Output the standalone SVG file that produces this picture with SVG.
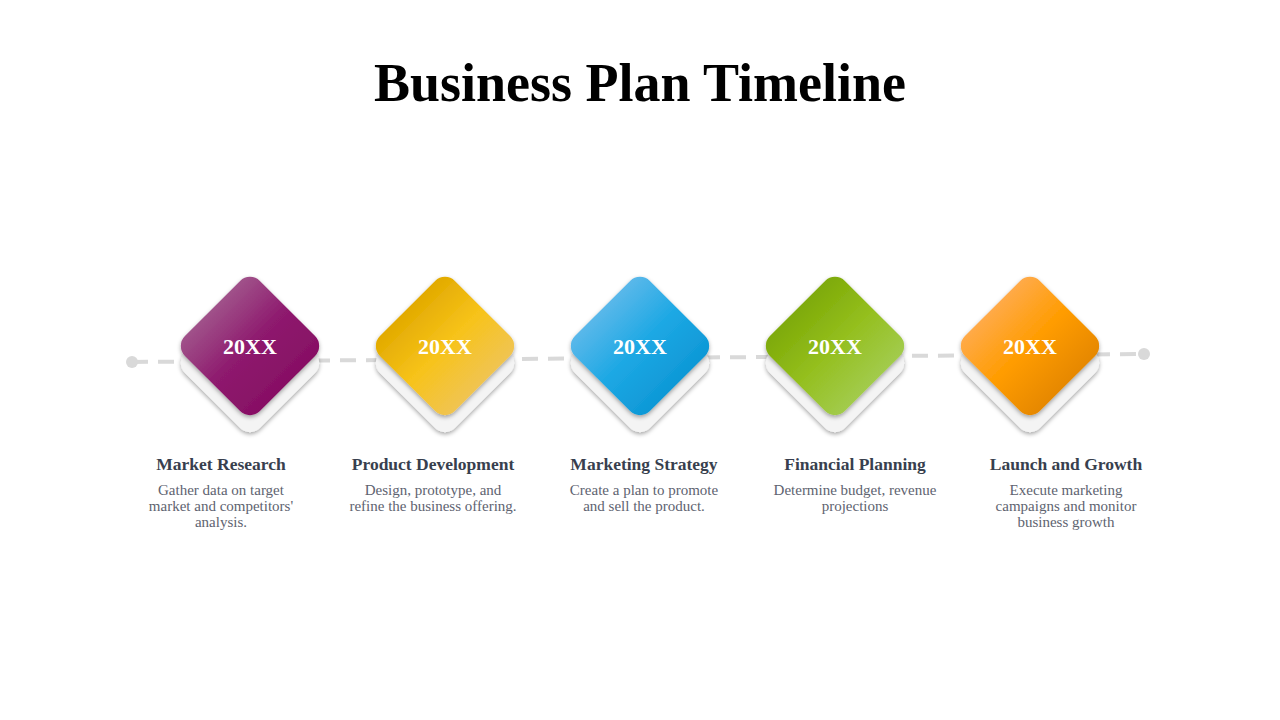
<svg xmlns="http://www.w3.org/2000/svg" width="1280" height="720" viewBox="0 0 1280 720">
<defs>
  <linearGradient id="gPurple" x1="0" y1="0.5" x2="1" y2="0.5"><stop offset="0" stop-color="#A0528A"/><stop offset="0.5" stop-color="#8E1A6E"/><stop offset="1" stop-color="#870F64"/></linearGradient>
  <linearGradient id="gYellow" x1="0" y1="0.5" x2="1" y2="0.5"><stop offset="0" stop-color="#E2AA00"/><stop offset="0.5" stop-color="#F7C31A"/><stop offset="1" stop-color="#F0C452"/></linearGradient>
  <linearGradient id="gBlue" x1="0" y1="0.5" x2="1" y2="0.5"><stop offset="0" stop-color="#5AB8EA"/><stop offset="0.5" stop-color="#1DA8E4"/><stop offset="1" stop-color="#0E98D6"/></linearGradient>
  <linearGradient id="gGreen" x1="0" y1="0.5" x2="1" y2="0.5"><stop offset="0" stop-color="#7EAA08"/><stop offset="0.5" stop-color="#94BF1E"/><stop offset="1" stop-color="#A2CB4C"/></linearGradient>
  <linearGradient id="gOrange" x1="0" y1="0.5" x2="1" y2="0.5"><stop offset="0" stop-color="#FFAA48"/><stop offset="0.5" stop-color="#FF9C00"/><stop offset="1" stop-color="#E68800"/></linearGradient>
  <filter id="sh" x="-30%" y="-30%" width="160%" height="160%"><feDropShadow dx="0" dy="2" stdDeviation="2" flood-color="#000" flood-opacity="0.35"/></filter>
  <rect id="dia" x="-53" y="-53" width="106" height="106" rx="14" ry="14" transform="rotate(45)"/>
</defs>
<style>
  .title{font-family:"Liberation Serif","DejaVu Serif",serif;font-weight:bold;font-size:54px;fill:#000;text-anchor:middle}
  .yr{font-family:"Liberation Serif","DejaVu Serif",serif;font-weight:bold;font-size:22px;fill:#fff;text-anchor:middle}
  .hd{font-family:"Liberation Serif","DejaVu Serif",serif;font-weight:bold;font-size:17.5px;fill:#383F4E;text-anchor:middle}
  .ds{font-family:"Liberation Serif","DejaVu Serif",serif;font-size:15px;fill:#5E6370;text-anchor:middle}
  .base{fill:#F4F4F4;filter:url(#sh)}
  .top{filter:url(#sh)}
</style>
<rect width="1280" height="720" fill="#fff"/>
<text class="title" x="640" y="101">Business Plan Timeline</text>
<g id="connectors">
  <line x1="132" y1="362" x2="1144" y2="354" stroke="#D9D9D9" stroke-width="4" stroke-dasharray="16 10"/>
  <circle cx="132" cy="362" r="6" fill="#D9D9D9"/>
  <circle cx="1144" cy="354" r="6" fill="#D9D9D9"/>
</g>
<g id="node1">
  <use href="#dia" class="base" transform="translate(250,363)"/>
  <use href="#dia" class="top" fill="url(#gPurple)" transform="translate(250,346)"/>
  <text class="yr" x="250" y="354">20XX</text>
  <text class="hd" x="221" y="470">Market Research</text>
  <text class="ds" x="221" y="495">Gather data on target</text>
  <text class="ds" x="221" y="511">market and competitors'</text>
  <text class="ds" x="221" y="527">analysis.</text>
</g>
<g id="node2">
  <use href="#dia" class="base" transform="translate(445,363)"/>
  <use href="#dia" class="top" fill="url(#gYellow)" transform="translate(445,346)"/>
  <text class="yr" x="445" y="354">20XX</text>
  <text class="hd" x="433" y="470">Product Development</text>
  <text class="ds" x="433" y="495">Design, prototype, and</text>
  <text class="ds" x="433" y="511">refine the business offering.</text>
</g>
<g id="node3">
  <use href="#dia" class="base" transform="translate(640,363)"/>
  <use href="#dia" class="top" fill="url(#gBlue)" transform="translate(640,346)"/>
  <text class="yr" x="640" y="354">20XX</text>
  <text class="hd" x="644" y="470">Marketing Strategy</text>
  <text class="ds" x="644" y="495">Create a plan to promote</text>
  <text class="ds" x="644" y="511">and sell the product.</text>
</g>
<g id="node4">
  <use href="#dia" class="base" transform="translate(835,363)"/>
  <use href="#dia" class="top" fill="url(#gGreen)" transform="translate(835,346)"/>
  <text class="yr" x="835" y="354">20XX</text>
  <text class="hd" x="855" y="470">Financial  Planning</text>
  <text class="ds" x="855" y="495">Determine budget, revenue</text>
  <text class="ds" x="855" y="511">projections</text>
</g>
<g id="node5">
  <use href="#dia" class="base" transform="translate(1030,363)"/>
  <use href="#dia" class="top" fill="url(#gOrange)" transform="translate(1030,346)"/>
  <text class="yr" x="1030" y="354">20XX</text>
  <text class="hd" x="1066" y="470">Launch and Growth</text>
  <text class="ds" x="1066" y="495">Execute marketing</text>
  <text class="ds" x="1066" y="511">campaigns and monitor</text>
  <text class="ds" x="1066" y="527">business growth</text>
</g>
</svg>
